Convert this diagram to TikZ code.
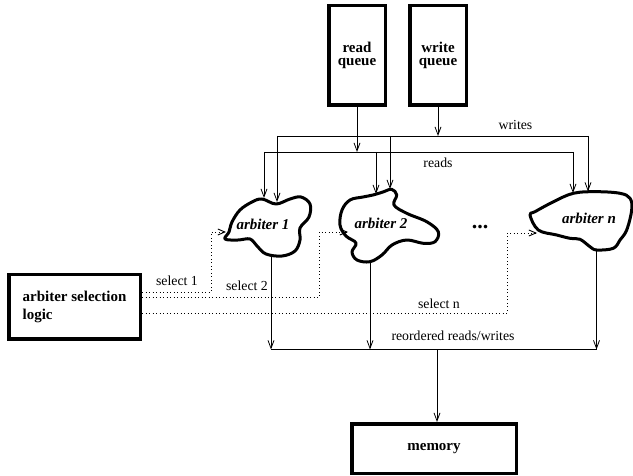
\documentclass[tikz,border=0pt]{standalone}
\usepackage{fontspec}
\setmainfont{Liberation Serif}
\usetikzlibrary{arrows.meta}
\begin{document}
\begin{tikzpicture}[x=1pt,y=-1pt,
  qbox/.style={draw,line width=3.5pt,inner sep=0pt,align=center,font=\fontsize{15}{13.5}\selectfont\bfseries},
  conn/.style={line width=0.8pt,-{Straight Barb[length=8pt,width=6pt]}},
  plainline/.style={line width=0.8pt},
  sel/.style={line width=0.9pt,dash pattern=on 0.9pt off 2.6pt,-{Straight Barb[length=7pt,width=6pt]}},
  lbl/.style={font=\fontsize{13.8}{16}\selectfont,inner sep=0pt},
  blob/.style={line width=3pt,line join=round},
  atext/.style={font=\fontsize{15}{18}\selectfont\bfseries\itshape,inner sep=0pt,anchor=base}
]
\useasboundingbox (0,0) rectangle (633,476);

% boxes
\node[qbox,minimum width=56.5pt,minimum height=99.5pt] (rq) at (357,55.5) {read\\queue};
\node[qbox,minimum width=56.5pt,minimum height=99.5pt] (wq) at (438,55.5) {write\\queue};
\node[qbox,minimum width=131.5pt,minimum height=64.5pt,align=left,font=\fontsize{15}{18.8}\selectfont\bfseries] (asl) at (74.5,307) {arbiter selection\\logic};
\node[qbox,minimum width=164.5pt,minimum height=49.5pt] (mem) at (434,448.5) {memory};

% blobs
\draw[blob] plot[smooth cycle,tension=0.6] coordinates {
 (225,239) (229,232) (232,222) (240,210) (252,202) (262,199) (276,204) (290,199)
 (301,197) (310,204) (309,217) (300,228) (300,240) (295,251) (282,256) (266,254)
 (257,246) (250,239) (238,240)};
\draw[blob] plot[smooth cycle,tension=0.6] coordinates {
 (391.7,189.3) (396.7,195) (394,205) (406.7,213.3) (426.7,221.7) (438.3,231.7)
 (435,241.7) (423.3,243.3) (406.7,240) (392,245) (382,255) (370,261.7) (357,260)
 (352,252) (356,243) (346,236) (340,225) (342,210) (350,200) (363,197) (373,195) (383,192)};
\draw[blob] plot[smooth cycle,tension=0.6] coordinates {
 (573.3,193.3) (553,202) (535,211.7) (530,215) (538.3,230) (556.7,235) (570,238.3)
 (580,239.3) (590,246.7) (596.7,250) (613.3,248.3) (620,240) (626.7,230)
 (631.7,210) (630,198.3) (620,193.3) (596.7,191.7)};

\node[atext] (a1) at (263,229.3) {arbiter 1};
\node[atext] (a2) at (381,229) {arbiter 2};
\node[atext] (an) at (589,224) {arbiter n};
\node[font=\fontsize{22}{22}\selectfont\bfseries,inner sep=0pt] (dots) at (480,227) {...};

% bus coordinates
\coordinate (wb1) at (277,136); \coordinate (wb2) at (390,136); \coordinate (wb3) at (588,136);
\coordinate (rb1) at (264,152); \coordinate (rb2) at (376,152); \coordinate (rb3) at (573,152);
\coordinate (a1r) at (264,198); \coordinate (a1w) at (277,202);
\coordinate (a2r) at (376,194); \coordinate (a2w) at (390,189);
\coordinate (anr) at (573,193); \coordinate (anw) at (588,191.5);

\draw[conn] (rq.south) -- (rq.south |- rb1);
\draw[conn] (wq.south) -- (wq.south |- wb1);
\draw[plainline] (wb1) -- (wb3);
\draw[plainline] (rb1) -- (rb3);
\draw[conn] (rb1) -- (a1r);
\draw[conn] (wb1) -- (a1w);
\draw[conn] (rb2) -- (a2r);
\draw[conn] (wb2) -- (a2w);
\draw[conn] (rb3) -- (anr);
\draw[conn] (wb3) -- (anw);

\node[lbl] (lwrites) at (515.5,125) {writes};
\node[lbl] (lreads) at (438,163) {reads};

% outputs
\coordinate (o1) at (271,256.5); \coordinate (o2) at (370,261.5); \coordinate (on) at (596.5,250);
\coordinate (b1) at (271,349.5); \coordinate (b2) at (370,349.5); \coordinate (b3) at (596.5,349.5);
\coordinate (bm) at (437,349.5);
\draw[conn] (o1) -- (b1);
\draw[conn] (o2) -- (b2);
\draw[conn] (on) -- (b3);
\draw[plainline] (b1) -- (b3);
\draw[conn] (bm) -- (bm |- mem.north);
\node[lbl] (lreord) at (453,336) {reordered reads/writes};

% select lines
\coordinate (s1y) at (0,292); \coordinate (s2y) at (0,297.5); \coordinate (sny) at (0,313);
\coordinate (s1e) at (226,232); \coordinate (s2e) at (348,232); \coordinate (sne) at (537,233);
\draw[sel] (asl.east |- s1y) -- (211,292) -- (211,232) -- (s1e);
\draw[sel] (asl.east |- s2y) -- (319,297.5) -- (319,232) -- (s2e);
\draw[sel] (asl.east |- sny) -- (507,313) -- (507,233) -- (sne);
\node[lbl] (ls1) at (177,281) {select 1};
\node[lbl] (ls2) at (247,286) {select 2};
\node[lbl] (lsn) at (439,304) {select n};
\end{tikzpicture}
\end{document}
